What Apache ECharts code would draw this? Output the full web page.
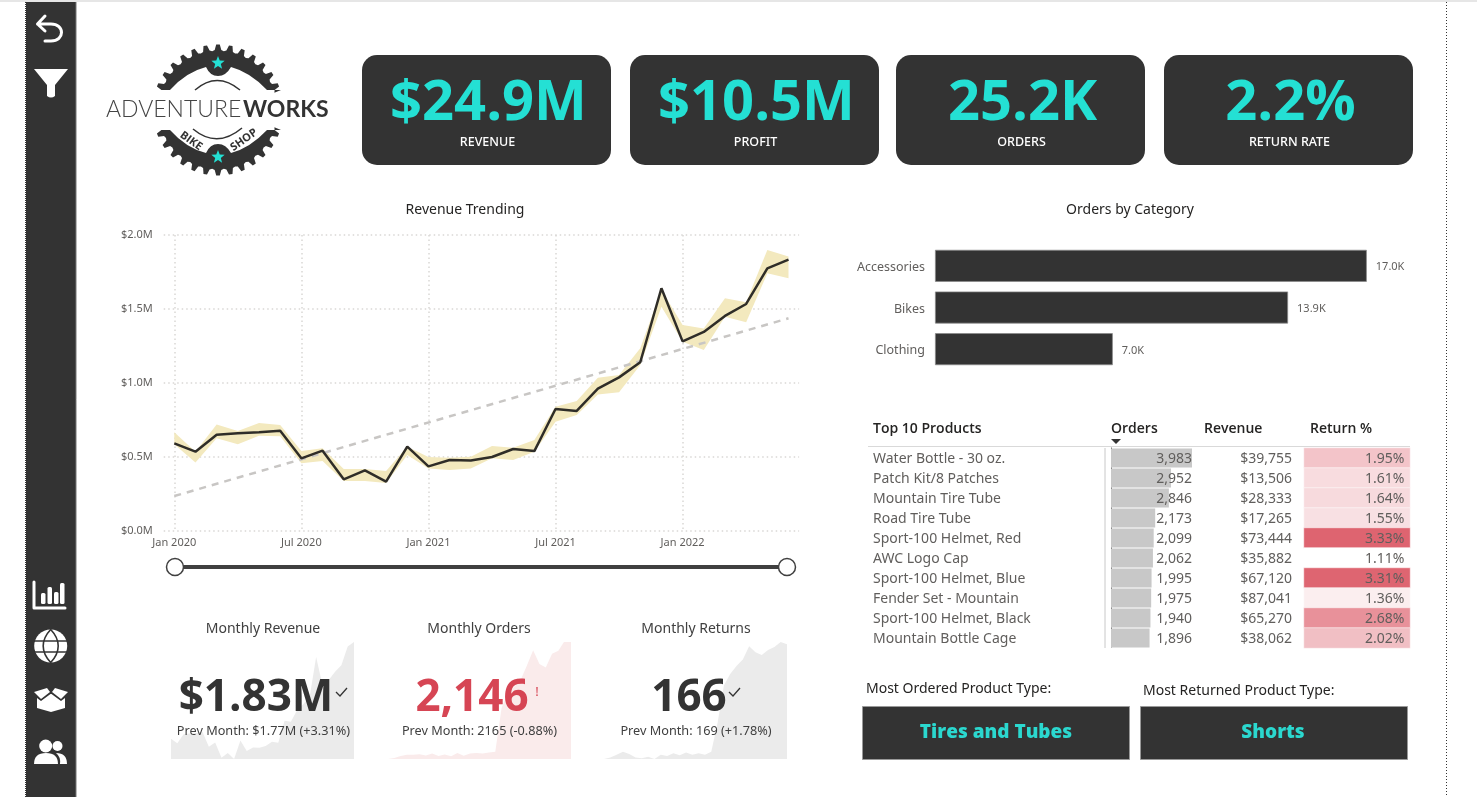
<!DOCTYPE html>
<html lang="en">

<head>
  <meta charset="UTF-8">
  <title>Adventure Works</title>
  <style>
    html, body { margin: 0; width: 100%; height: 100%; background: #fff; }
    #chart { width: 1477px; height: 797px; }
  </style>
</head>

<body>
  <div id="chart"></div>
  <script src="https://cdn.jsdelivr.net/npm/echarts@6/dist/echarts.min.js"></script>
  <script>
    // kpi cards
    var kpiValues = ['$24.9M', '$10.5M', '25.2K', '2.2%'];
    var kpiNames = ['REVENUE', 'PROFIT', 'ORDERS', 'RETURN RATE'];

    // revenue trending, in $M
    var months = ['Jan 2020', 'Feb 2020', 'Mar 2020', 'Apr 2020', 'May 2020', 'Jun 2020', 'Jul 2020', 'Aug 2020', 'Sep 2020', 'Oct 2020',
      'Nov 2020', 'Dec 2020', 'Jan 2021', 'Feb 2021', 'Mar 2021', 'Apr 2021', 'May 2021', 'Jun 2021', 'Jul 2021', 'Aug 2021',
      'Sep 2021', 'Oct 2021', 'Nov 2021', 'Dec 2021', 'Jan 2022', 'Feb 2022', 'Mar 2022', 'Apr 2022', 'May 2022', 'Jun 2022'];
    var revenue = [0.592, 0.536, 0.651, 0.660, 0.667, 0.678, 0.491, 0.543, 0.349, 0.410,
      0.333, 0.570, 0.437, 0.480, 0.477, 0.500, 0.554, 0.540, 0.824, 0.811,
      0.962, 1.038, 1.140, 1.640, 1.281, 1.345, 1.453, 1.534, 1.775, 1.833];
    var bandUpper = [0.667, 0.536, 0.720, 0.676, 0.730, 0.716, 0.541, 0.559, 0.419, 0.419,
      0.405, 0.570, 0.500, 0.495, 0.502, 0.574, 0.563, 0.615, 0.840, 0.878,
      1.036, 1.054, 1.234, 1.628, 1.392, 1.369, 1.572, 1.545, 1.899, 1.854];
    var bandLower = [0.586, 0.462, 0.626, 0.586, 0.644, 0.640, 0.457, 0.473, 0.338, 0.338,
      0.324, 0.514, 0.423, 0.412, 0.423, 0.491, 0.480, 0.536, 0.739, 0.784,
      0.923, 0.937, 1.122, 1.515, 1.279, 1.223, 1.448, 1.410, 1.741, 1.707];
    var trendEnds = [[0, 0.236], [29, 1.437]];

    // orders by category
    var categories = ['Accessories', 'Bikes', 'Clothing'];
    var categoryOrders = [17000, 13900, 7000];

    // top 10 products
    var products = ['Water Bottle - 30 oz.', 'Patch Kit/8 Patches', 'Mountain Tire Tube', 'Road Tire Tube', 'Sport-100 Helmet, Red',
      'AWC Logo Cap', 'Sport-100 Helmet, Blue', 'Fender Set - Mountain', 'Sport-100 Helmet, Black', 'Mountain Bottle Cage'];
    var productOrders = [3983, 2952, 2846, 2173, 2099, 2062, 1995, 1975, 1940, 1896];
    var productRevenue = [39755, 13506, 28333, 17265, 73444, 35882, 67120, 87041, 65270, 38062];
    var productReturn = [1.95, 1.61, 1.64, 1.55, 3.33, 1.11, 3.31, 1.36, 2.68, 2.02];

    // sparklines behind the monthly cards
    var monthlyOrders = [200, 215, 250, 270, 270, 280, 260, 290, 250, 275,
      245, 300, 255, 290, 300, 290, 310, 320, 1050, 1300,
      1400, 1510, 1750, 2010, 1780, 1720, 1950, 2000, 2165, 2146];
    var monthlyReturns = [8, 10, 14, 18, 15, 10, 9, 11, 8, 14,
      12, 16, 13, 17, 14, 16, 14, 18, 58, 109,
      125, 136, 145, 163, 155, 151, 158, 162, 169, 166];

    var DARK = '#333333';
    var CYAN = '#24E0D4';
    var GREY = '#605E5C';
    var FONT = '"Noto Sans", sans-serif';
    var BOLD = '"Open Sans", sans-serif';

    var myChart = echarts.init(document.getElementById('chart'));

    function txt(x, y, text, size, fill, align, weight, family) {
      return {
        type: 'text',
        style: {
          x: x, y: y, text: text, fill: fill,
          fontSize: size, fontWeight: weight || 'normal', fontFamily: family || FONT,
          align: align || 'center', verticalAlign: 'middle'
        }
      };
    }

    function box(x, y, w, h, r) {
      return {
        type: 'rect', shape: { x: x, y: y, width: w, height: h, r: r || 0 },
        style: { fill: DARK, stroke: r ? DARK : '#999', lineWidth: r ? 0 : 1 }
      };
    }

    function shape(type, s, style) {
      return { type: type, shape: s, style: style };
    }

    // the graphic component has no pathData, so each svg path gets its own shape class
    var pathCount = 0;
    function svg(d, style) {
      var name = 'svgPath' + (pathCount++);
      echarts.graphic.registerShape(name, echarts.graphic.extendPath(d, {}));
      return { type: name, style: style };
    }

    function path(d, fill) {
      return svg(d, { fill: fill || '#fff' });
    }

    function starPoints(cx, cy, r) {
      var pts = [];
      for (var i = 0; i < 10; i++) {
        var a = -Math.PI / 2 + i * Math.PI / 5;
        var rr = i % 2 ? r * 0.42 : r;
        pts.push([cx + rr * Math.cos(a), cy + rr * Math.sin(a)]);
      }
      return pts;
    }

    // half of the chainring, dir -1 is the upper half and 1 the lower
    function ringPath(dir) {
      var cx = 218, cy = 110, teeth = 13;
      var from = 17 * Math.PI / 180, to = 163 * Math.PI / 180;
      var step = (to - from) / teeth;
      var d = '';
      for (var i = 0; i < teeth; i++) {
        var a0 = from + i * step;
        var seq = [[a0, 59], [a0 + step * 0.22, 60], [a0 + step * 0.36, 65.5], [a0 + step * 0.64, 65.5], [a0 + step * 0.78, 60]];
        seq.forEach(function (p, k) {
          var x = cx + p[1] * Math.cos(p[0]);
          var y = cy + dir * p[1] * Math.sin(p[0]);
          d += (i === 0 && k === 0 ? 'M' : 'L') + x.toFixed(1) + ' ' + y.toFixed(1) + ' ';
        });
      }
      function Y(v) { return (cy + dir * v).toFixed(1); }
      d += 'L155 ' + Y(20) + ' L170 ' + Y(20) + ' Q186 ' + Y(38) + ' 206 ' + Y(43) +
        ' Q210 ' + Y(34) + ' 218 ' + Y(34) + ' Q226 ' + Y(34) + ' 231 ' + Y(43) +
        ' Q250 ' + Y(38) + ' 267 ' + Y(20) + ' L281 ' + Y(20) + ' Z';
      return d;
    }

    var elements = [
      // browser edge and page guides
      shape('rect', { x: 0, y: 0, width: 1477, height: 2 }, { fill: '#E6E6E6' }),
      shape('line', { x1: 25.5, y1: 2, x2: 25.5, y2: 797 }, { stroke: '#333', lineWidth: 1, lineDash: [1, 1] }),
      shape('line', { x1: 1446.5, y1: 2, x2: 1446.5, y2: 797 }, { stroke: '#333', lineWidth: 1, lineDash: [1, 2] }),
      shape('rect', { x: 26, y: 2, width: 50, height: 795 }, { fill: DARK }),
      shape('line', { x1: 76, y1: 2, x2: 76, y2: 797 }, { stroke: '#777', lineWidth: 1 }),

      // sidebar icons
      svg('M45 16 L37.5 24 L45 31 M37.5 24 L51 24 C65 24 65 41 51 41 L45 41', { fill: 'none', stroke: '#fff', lineWidth: 3, lineCap: 'round', lineJoin: 'round' }),
      path('M34 69 L68 69 L55 85 L55 96 Q51 99 47 96 L47 85 Z'),
      shape('polyline', { points: [[34, 582], [34, 608], [65, 608]] }, { fill: 'none', stroke: '#fff', lineWidth: 3, lineCap: 'round', lineJoin: 'round' }),
      shape('rect', { x: 41, y: 593, width: 4.5, height: 11, r: 1.5 }, { fill: '#fff' }),
      shape('rect', { x: 47.5, y: 587, width: 4.5, height: 17, r: 1.5 }, { fill: '#fff' }),
      shape('rect', { x: 54, y: 592, width: 4.5, height: 12, r: 1.5 }, { fill: '#fff' }),
      shape('rect', { x: 60, y: 583, width: 4.5, height: 21, r: 1.5 }, { fill: '#fff' }),
      shape('circle', { cx: 50.7, cy: 646, r: 16.5 }, { fill: '#fff' }),
      svg('M50.7 629.5 C40.7 640 40.7 652 50.7 662.5 C60.7 652 60.7 640 50.7 629.5', { fill: 'none', stroke: DARK, lineWidth: 1.6 }),
      shape('line', { x1: 34, y1: 641, x2: 67, y2: 641 }, { stroke: DARK, lineWidth: 1.6 }),
      shape('line', { x1: 34, y1: 652, x2: 67, y2: 652 }, { stroke: DARK, lineWidth: 1.6 }),
      path('M34 692 L47 688 L50 692 L41 699 Z'),
      path('M68 692 L55 688 L52 692 L61 699 Z'),
      path('M37 698 L41 701 L50.5 694 L51.5 694 L61 701 L65 698 L65 708 L51 712 L37 708 Z'),
      shape('circle', { cx: 45.7, cy: 746, r: 6.5 }, { fill: '#fff' }),
      shape('circle', { cx: 57.5, cy: 746, r: 5 }, { fill: '#fff' }),
      path('M34 764 Q34 753 46 753 Q58 753 58 764 Z'),
      path('M60 764 Q61 757 56 753 Q67 753 67 764 Z'),

      // logo
      path(ringPath(-1), DARK),
      path(ringPath(1), DARK),
      shape('polygon', { points: starPoints(218, 63, 7) }, { fill: CYAN }),
      shape('polygon', { points: starPoints(218, 157, 7) }, { fill: CYAN }),
      svg('M195 90 Q217 71 240 90', { fill: 'none', stroke: DARK, lineWidth: 1.5 }),
      svg('M193 129 Q217 149 242 128', { fill: 'none', stroke: DARK, lineWidth: 1.5 }),
      {
        type: 'text', x: 106, y: 121,
        style: { text: 'ADVENTURE', fill: '#444', fontSize: 23, fontWeight: 300, fontFamily: 'Lato, sans-serif', align: 'left', verticalAlign: 'bottom' }
      },
      {
        type: 'text', x: 243, y: 121,
        style: { text: 'WORKS', fill: DARK, fontSize: 23, fontWeight: 700, fontFamily: 'Lato, sans-serif', align: 'left', verticalAlign: 'bottom' }
      },
      {
        type: 'text', x: 191, y: 141, rotation: -0.62,
        style: { text: 'BIKE', fill: DARK, fontSize: 11, fontWeight: 'bold', fontFamily: BOLD, align: 'center', verticalAlign: 'middle' }
      },
      {
        type: 'text', x: 244, y: 140, rotation: 0.62,
        style: { text: 'SHOP', fill: DARK, fontSize: 11, fontWeight: 'bold', fontFamily: BOLD, align: 'center', verticalAlign: 'middle' }
      },

      // chart titles
      txt(465, 210, 'Revenue Trending', 14, '#252423'),
      txt(1130, 210, 'Orders by Category', 14, '#252423'),

      // date slicer
      shape('line', { x1: 175, y1: 567, x2: 787, y2: 567 }, { stroke: '#404040', lineWidth: 4 }),
      shape('circle', { cx: 175, cy: 567, r: 8.5 }, { fill: '#fff', stroke: '#404040', lineWidth: 1.5 }),
      shape('circle', { cx: 787, cy: 567, r: 8.5 }, { fill: '#fff', stroke: '#404040', lineWidth: 1.5 }),

      // table header
      txt(873, 429, 'Top 10 Products', 14, '#252423', 'left', 600, BOLD),
      txt(1111, 429, 'Orders', 14, '#252423', 'left', 600, BOLD),
      txt(1204, 429, 'Revenue', 14, '#252423', 'left', 600, BOLD),
      txt(1310, 429, 'Return %', 14, '#252423', 'left', 600, BOLD),
      shape('polygon', { points: [[1111, 439], [1121, 439], [1116, 444]] }, { fill: '#333' }),
      shape('line', { x1: 868, y1: 446.5, x2: 1410, y2: 446.5 }, { stroke: '#D9D9D9', lineWidth: 1 }),
      shape('line', { x1: 1105, y1: 448, x2: 1105, y2: 648 }, { stroke: '#C8C8C8', lineWidth: 1 }),

      // monthly cards
      txt(263, 629, 'Monthly Revenue', 14, '#404040'),
      txt(256, 698, '$1.83M', 44, DARK, 'center', 'bold', BOLD),
      shape('polyline', { points: [[336, 692], [340, 696], [347, 688]] }, { fill: 'none', stroke: DARK, lineWidth: 1.3 }),
      txt(263.5, 731, 'Prev Month: $1.77M (+3.31%)', 12.7, '#404040'),
      txt(479, 629, 'Monthly Orders', 14, '#404040'),
      txt(472, 698, '2,146', 44, '#D64554', 'center', 'bold', BOLD),
      txt(537, 692, '!', 13, '#D64554'),
      txt(479.5, 731, 'Prev Month: 2165 (-0.88%)', 12.7, '#404040'),
      txt(696, 629, 'Monthly Returns', 14, '#404040'),
      txt(689, 698, '166', 44, DARK, 'center', 'bold', BOLD),
      shape('polyline', { points: [[729, 692], [733, 696], [740, 688]] }, { fill: 'none', stroke: DARK, lineWidth: 1.3 }),
      txt(696, 731, 'Prev Month: 169 (+1.78%)', 12.7, '#404040'),

      // product type cards
      txt(866, 689, 'Most Ordered Product Type:', 14, '#252423', 'left'),
      txt(1143, 691, 'Most Returned Product Type:', 14, '#252423', 'left'),
      box(862.5, 706.5, 267, 53),
      box(1140.5, 706.5, 267, 53),
      txt(996, 733, 'Tires and Tubes', 19, '#2BD8CF', 'center', 800, BOLD),
      txt(1273, 733, 'Shorts', 19, '#2BD8CF', 'center', 800, BOLD)
    ];

    // kpi cards along the top
    var kpiLeft = [362, 630, 896, 1164];
    kpiValues.forEach(function (v, i) {
      var mid = kpiLeft[i] + 124.5;
      elements.push(box(kpiLeft[i], 55, 249, 110, 15));
      elements.push(txt(mid + 2, 104, v, 56, CYAN, 'center', 'bold', BOLD));
      elements.push(txt(mid + 1, 142, kpiNames[i], 12.5, '#fff', 'center', 500));
    });

    elements.forEach(function (el) { el.z = 10; });

    var dotted = { color: '#D9D7D5', width: 1.5, type: [1.5, 3] };
    var money = new Intl.NumberFormat('en-US');

    var hiddenX = function (grid, data) {
      return { type: 'category', gridIndex: grid, data: data, boundaryGap: false, show: false };
    };
    var hiddenY = function (grid, min, max) {
      return { type: 'value', gridIndex: grid, min: min, max: max, show: false };
    };

    function spark(grid, values, color) {
      return {
        type: 'line', xAxisIndex: grid, yAxisIndex: grid, data: values,
        showSymbol: false, silent: true, lineStyle: { width: 0 },
        areaStyle: { color: color, opacity: 1 }, z: 1
      };
    }

    // a text column of the table, drawn as the labels of a category axis
    function tableColumn(grid, data, position, align, margin, offset) {
      return {
        type: 'category', gridIndex: grid, position: position, offset: offset, inverse: true, z: 5, data: data,
        axisLine: { show: false }, axisTick: { show: false },
        axisLabel: { interval: 0, align: align, margin: margin, color: GREY, fontSize: 14, fontFamily: FONT }
      };
    }

    var series = [
      {
        type: 'line', stack: 'band', data: bandLower, showSymbol: false, silent: true,
        lineStyle: { width: 0 }, areaStyle: { opacity: 0 }
      },
      {
        type: 'line', stack: 'band', showSymbol: false, silent: true,
        data: bandUpper.map(function (v, i) { return v - bandLower[i]; }),
        lineStyle: { width: 0 }, areaStyle: { color: '#F3E9BE', opacity: 1 }
      },
      {
        type: 'line', data: trendEnds, showSymbol: false, silent: true,
        lineStyle: { color: '#C8C6C4', width: 2.5, type: [7, 6] }
      },
      {
        type: 'line', data: revenue, showSymbol: false, silent: true,
        lineStyle: { color: '#2F2D28', width: 2.5 }, z: 4
      },
      {
        type: 'bar', xAxisIndex: 1, yAxisIndex: 1, data: categoryOrders, barWidth: 32,
        itemStyle: { color: DARK, borderColor: '#8A8A8A', borderWidth: 0.75 },
        label: {
          show: true, position: 'right', distance: 9, offset: [0, 1.5], color: GREY, fontSize: 11, fontFamily: FONT,
          formatter: function (p) { return (p.value / 1000).toFixed(1) + 'K'; }
        }
      },
      spark(2, revenue, '#EBEBEB'),
      spark(3, monthlyOrders, '#FAEBEB'),
      spark(4, monthlyReturns, '#EBEBEB'),
      {
        type: 'bar', xAxisIndex: 5, yAxisIndex: 5, data: productOrders, z: 1,
        barCategoryGap: '4%', itemStyle: { color: '#C8C8C8' }
      },
      {
        type: 'heatmap', xAxisIndex: 6, yAxisIndex: 6,
        data: productReturn.map(function (v, i) { return [0, i, v]; }),
        itemStyle: { borderColor: '#fff', borderWidth: 0.5 },
        label: {
          show: true, position: 'insideRight', distance: 6, offset: [0, 1.5], color: GREY, fontSize: 14, fontFamily: FONT,
          formatter: function (p) { return p.value[2].toFixed(2) + '%'; }
        }
      }
    ];

    var option = {
      animation: false,
      backgroundColor: '#fff',
      graphic: { elements: elements },
      grid: [
        { left: 163.7, top: 235, width: 635.4, height: 296 },
        { left: 935, top: 245, width: 508, height: 125 },
        { left: 171, top: 642, width: 183, height: 117 },
        { left: 388, top: 642, width: 183, height: 117 },
        { left: 604, top: 642, width: 183, height: 117 },
        { left: 1111, top: 448, width: 81, height: 200 },
        { left: 1304, top: 448, width: 106, height: 200 },
        // text only grids, set a little lower than the bars they label
        { left: 1111, top: 449.5, width: 81, height: 200 },
        { left: 935, top: 246.5, width: 508, height: 125 }
      ],
      xAxis: [
        {
          type: 'category', gridIndex: 0, data: months, boundaryGap: true,
          axisLine: { show: false }, axisTick: { show: false },
          axisLabel: { interval: 5, color: GREY, fontSize: 11, fontFamily: FONT, margin: 6 },
          splitLine: { show: true, interval: 5, alignWithLabel: true, lineStyle: dotted }
        },
        { type: 'value', gridIndex: 1, min: 0, max: 20000, show: false },
        hiddenX(2, months),
        hiddenX(3, months),
        hiddenX(4, months),
        { type: 'value', gridIndex: 5, min: 0, max: 3983, show: false },
        { type: 'category', gridIndex: 6, data: ['Return %'], show: false },
        { type: 'value', gridIndex: 7, show: false },
        { type: 'value', gridIndex: 8, show: false }
      ],
      yAxis: [
        {
          type: 'value', gridIndex: 0, min: 0, max: 2, interval: 0.5,
          axisLine: { show: false }, axisTick: { show: false },
          axisLabel: {
            color: GREY, fontSize: 11, fontFamily: FONT, margin: 11,
            formatter: function (v) { return '$' + v.toFixed(1) + 'M'; }
          },
          splitLine: { lineStyle: dotted }
        },
        {
          type: 'category', gridIndex: 1, data: categories, inverse: true,
          axisLine: { show: false }, axisTick: { show: false }, axisLabel: { show: false }
        },
        hiddenY(2, 0.333, 1.833),
        hiddenY(3, 200, 2146),
        hiddenY(4, 8, 169),
        {
          type: 'category', gridIndex: 5, data: products, inverse: true,
          axisLine: { lineStyle: { color: '#555', type: [1, 1] } }, axisTick: { show: false }, axisLabel: { show: false }
        },
        {
          type: 'category', gridIndex: 6, data: products, inverse: true, show: false
        },
        tableColumn(7, products, 'left', 'left', 238, 0),
        tableColumn(7, productOrders.map(function (v) { return money.format(v); }), 'right', 'right', 0, 0),
        tableColumn(7, productRevenue.map(function (v) { return '$' + money.format(v); }), 'right', 'right', 0, 100),
        {
          type: 'category', gridIndex: 8, data: categories, inverse: true,
          axisLine: { show: false }, axisTick: { show: false },
          axisLabel: { color: GREY, fontSize: 12.5, fontFamily: FONT, margin: 10 }
        }
      ],
      visualMap: {
        show: false, seriesIndex: series.length - 1, dimension: 2, min: 1.11, max: 3.33,
        inRange: { color: ['#FFFFFF', '#DE6470'] }
      },
      series: series
    };

    myChart.setOption(option);
    window.addEventListener('resize', function () {
      myChart.resize();
    });
  </script>
</body>

</html>
